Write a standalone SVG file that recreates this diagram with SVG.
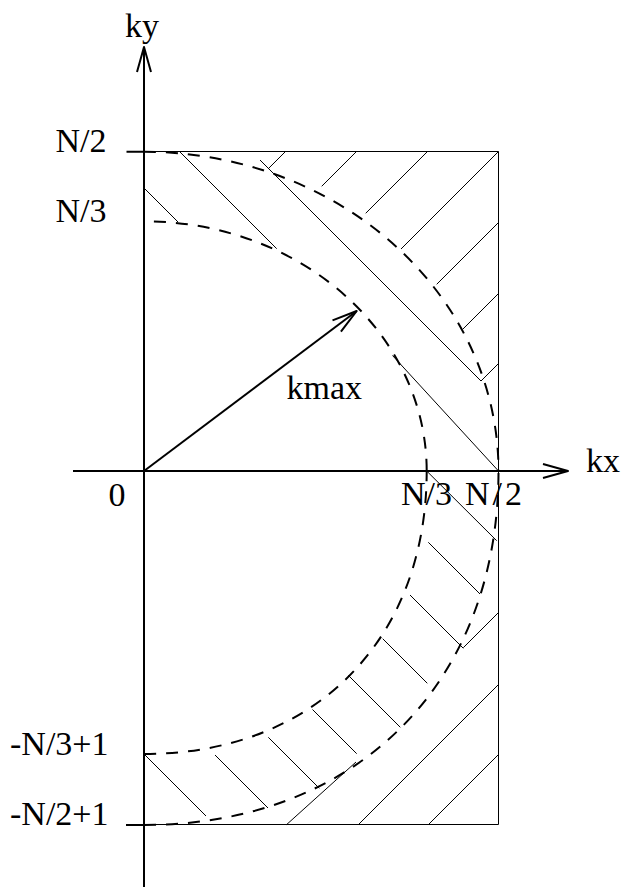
<svg xmlns="http://www.w3.org/2000/svg" width="622" height="891" viewBox="0 0 622 891">
<style>
.ax{stroke:#000;stroke-width:2;fill:none}
.tick{stroke:#000;stroke-width:2;fill:none}
.edge{stroke:#000;stroke-width:1;fill:none}
.hatch{stroke:#000;stroke-width:1;fill:none}
.dash{stroke:#000;stroke-width:2;fill:none;stroke-dasharray:12 10}
.lbl{font-family:"Liberation Serif","Times New Roman",serif;font-size:34px;fill:#000}
</style>
<defs>
<marker id="arr" viewBox="-2 -10 30 20" refX="25" refY="0" markerWidth="30" markerHeight="20" markerUnits="userSpaceOnUse" orient="auto" overflow="visible">
<path d="M0,-7 L25,0 L0,7" fill="none" stroke="#000" stroke-width="2" stroke-linejoin="round"/>
</marker>
</defs>
<rect width="622" height="891" fill="#fff"/>

<g id="domain">
<path class="edge" d="M144,151.5 H498.5 V824.5 H144"/>
</g>

<g id="hatching">
<path class="hatch" d="M268.3,168.7 L285.3,151.7 M321.7,186.3 L356.3,151.7 M365.7,213.3 L427.3,151.7 M401,249 L498.3,151.7 M436.7,284.3 L498.5,222.5 M462.7,329.3 L498.5,293.5 M481,381 L498.5,363.5"/>
<path class="hatch" d="M179.7,151.7 L276.7,248.7 M260,160 L481,381 M144,188 L178,222 M392.5,355.5 L498.5,471"/>
<path class="hatch" d="M426.7,471 L496.7,540.7 M428.3,542.3 L480,594 M410,595 L463.3,648.3 M382.7,638.7 L427.3,683.3 M348.3,675.3 L400.3,727.3 M312.5,709.5 L356.7,753.7 M268.3,737.3 L319.3,788.3 M215,755 L268,808 M144,754 L206,816"/>
<path class="hatch" d="M463.3,647.7 L498.5,612.5 M286.7,824.5 L356,762 M358.5,824.5 L498.5,684.5 M428.5,824.5 L498.5,754.5"/>
</g>

<g id="circles">
<path class="dash" d="M144,151.7 A354.5,319.3 0 0 1 498.5,471"/>
<path class="dash" style="stroke-dashoffset:12" d="M144,221.3 A282.7,249.7 0 0 1 426.7,471"/>
<path class="dash" d="M144,754 C313.6,754 426.7,640.8 426.7,471"/>
<path class="dash" d="M144,825 C356.7,825 498.5,683.4 498.5,471"/>
</g>

<g id="connectors">
<path class="ax" d="M144,887 V47" marker-end="url(#arr)"/>
<path class="ax" d="M73,471 H568" marker-end="url(#arr)"/>
<path class="ax" d="M144,471 L356.7,311" marker-end="url(#arr)"/>
<path class="tick" d="M126.5,151.7 H144 M126,825 H144"/>
</g>

<g id="labels">
<text class="lbl" x="125" y="37">ky</text>
<text class="lbl" x="586" y="472">kx</text>
<text class="lbl" x="286.5" y="399">kmax</text>
<text class="lbl" x="108.5" y="506">0</text>
<text class="lbl" x="401" y="505">N/3</text>
<text class="lbl" x="465" y="505" textLength="57" lengthAdjust="spacing">N/2</text>
<text class="lbl" x="55.5" y="152">N/2</text>
<text class="lbl" x="55.5" y="222">N/3</text>
<text class="lbl" x="10" y="754.5">-N/3+1</text>
<text class="lbl" x="10" y="825">-N/2+1</text>
</g>
</svg>
